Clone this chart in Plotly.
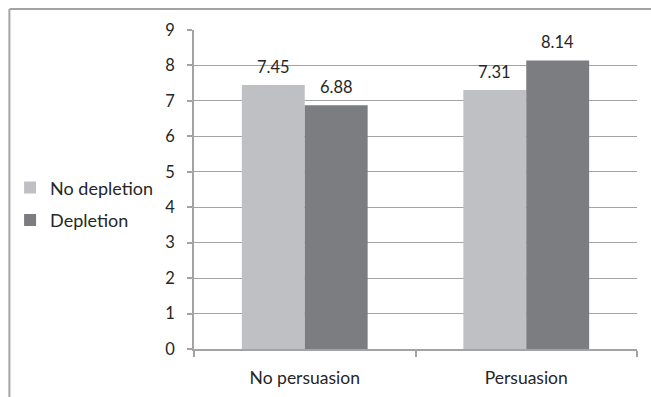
import plotly.graph_objects as go

# Mean scores by condition
categories = ["No persuasion", "Persuasion"]
no_depletion = [7.45, 7.31]
depletion = [6.88, 8.14]
y_ticks = [0, 1, 2, 3, 4, 5, 6, 7, 8, 9]

FONT = "Lato, 'Open Sans', sans-serif"
LIGHT = "#BFC0C3"
DARK = "#7C7D81"
LINE = "#A3A3A3"
TEXT = "#262626"

fig = go.Figure()
fig.add_trace(go.Bar(name="No depletion", x=categories, y=no_depletion,
                     marker=dict(color=LIGHT, line=dict(width=0)),
                     legendgroup="a"))
fig.add_trace(go.Bar(name="Depletion", x=categories, y=depletion,
                     marker=dict(color=DARK, line=dict(width=0)),
                     legendgroup="b"))

# Value labels above each bar
bar_px = 63
for series, shift in ((no_depletion, -bar_px / 2), (depletion, bar_px / 2)):
    for cat, val in zip(categories, series):
        fig.add_annotation(x=cat, y=val, text=f"{val:.2f}", showarrow=False,
                           xshift=shift, yanchor="bottom", yshift=6,
                           font=dict(family=FONT, size=16.5, color=TEXT))

# Outer chart frame (top and left edges)
fig.add_shape(type="line", xref="paper", yref="paper",
              x0=-0.4167, x1=1.04, y0=1.0658, y1=1.0658,
              line=dict(color=LINE, width=2))
fig.add_shape(type="line", xref="paper", yref="paper",
              x0=-0.4167, x1=-0.4167, y0=1.0658, y1=-0.16,
              line=dict(color=LINE, width=2))

fig.update_layout(
    width=651, height=397,
    margin=dict(l=193, r=14, t=30, b=48),
    paper_bgcolor="white", plot_bgcolor="white",
    barmode="group", bargap=0.432, bargroupgap=0,
    font=dict(family=FONT, size=16, color=TEXT),
    showlegend=True,
    legend=dict(x=-0.412, xanchor="left", y=0.455, yanchor="middle",
                font=dict(family=FONT, size=18, color=TEXT),
                tracegroupgap=6, itemwidth=30,
                bgcolor="rgba(0,0,0,0)"),
    xaxis=dict(showline=True, linecolor=LINE, linewidth=1.5,
               ticks="outside", tickson="boundaries", ticklen=6,
               tickcolor=LINE, tickwidth=1.5, ticklabelstandoff=12,
               tickfont=dict(family=FONT, size=17.5, color=TEXT),
               showgrid=False, automargin=False),
    yaxis=dict(range=[0, 9], tickvals=y_ticks, showline=True,
               linecolor=LINE, linewidth=1.5, ticks="outside", ticklen=5,
               tickcolor=LINE, tickwidth=1.5, showgrid=True,
               gridcolor=LINE, gridwidth=1, zeroline=False,
               ticklabelstandoff=9, automargin=False,
               tickfont=dict(family=FONT, size=16.5, color=TEXT)),
)

fig.write_html("out.html")
